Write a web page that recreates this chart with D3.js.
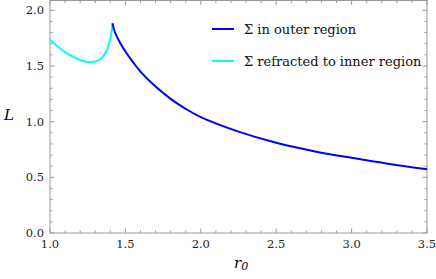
<!DOCTYPE html>
<html>
<head>
<meta charset="utf-8">
<script src="https://cdn.jsdelivr.net/npm/d3@7"></script>
<style>
  body { margin: 0; background: #fff; }
  .frame { fill: none; stroke: #999; stroke-width: 1; }
  .tick line { stroke: #999; }
</style>
</head>
<body>
<svg id="chart" width="436" height="279"></svg>
<script>
// Σ in outer region
const outerR = [1.414, 1.43, 1.46, 1.5, 1.55, 1.6, 1.7, 1.8, 1.9, 2.0, 2.25, 2.5, 2.75, 3.0, 3.25, 3.5];
const outerL = [1.883, 1.805, 1.72, 1.63, 1.535, 1.45, 1.315, 1.205, 1.115, 1.04, 0.91, 0.81, 0.735, 0.675, 0.62, 0.572];
// Σ refracted to inner region
const innerR = [1.0, 1.05, 1.1, 1.15, 1.2, 1.25, 1.3, 1.34, 1.37, 1.39, 1.405, 1.414];
const innerL = [1.735, 1.675, 1.625, 1.585, 1.555, 1.535, 1.54, 1.57, 1.62, 1.69, 1.78, 1.883];

const xMajor = [1.0, 1.5, 2.0, 2.5, 3.0, 3.5];
const yMajor = [0.0, 0.5, 1.0, 1.5, 2.0];
const legendLabels = ["\u03A3 in outer region", "\u03A3 refracted to inner region"];
const colors = ["#0000ff", "#00ffff"];

const SERIF = "DejaVu Serif";
const M = { left: 50, right: 9, top: 0.5, bottom: 46 };
const W = 436, H = 279;
const svg = d3.select("#chart");

const x = d3.scaleLinear().domain([1.0, 3.5]).range([M.left, W - M.right]);
const y = d3.scaleLinear().domain([0, 2.0]).range([233, 10.3]);

const x0 = x.range()[0], x1 = x.range()[1];
const y0 = 233, y1 = M.top;

// minor ticks every 0.1
const xMinor = d3.range(10, 36).map(d => d / 10).filter(d => !xMajor.some(m => Math.abs(m - d) < 1e-6));
const yMinor = d3.range(0, 21).map(d => d / 10).filter(d => !yMajor.some(m => Math.abs(m - d) < 1e-6));

const ticks = svg.append("g").attr("class", "tick");
function vtick(v, len) {
  ticks.append("line").attr("x1", x(v)).attr("x2", x(v)).attr("y1", y0).attr("y2", y0 - len);
  ticks.append("line").attr("x1", x(v)).attr("x2", x(v)).attr("y1", y1).attr("y2", y1 + len);
}
function htick(v, len) {
  ticks.append("line").attr("y1", y(v)).attr("y2", y(v)).attr("x1", x0).attr("x2", x0 + len);
  ticks.append("line").attr("y1", y(v)).attr("y2", y(v)).attr("x1", x1).attr("x2", x1 - len);
}
xMajor.forEach(v => vtick(v, 4.5));
xMinor.forEach(v => vtick(v, 2.5));
yMajor.forEach(v => htick(v, 4.5));
yMinor.forEach(v => htick(v, 2.5));

svg.append("rect").attr("class", "frame")
  .attr("x", x0).attr("y", y1).attr("width", x1 - x0).attr("height", y0 - y1);

svg.selectAll(".xl").data(xMajor).enter().append("text")
  .style("font-family", SERIF).attr("font-size", 11.5).attr("fill", "#222")
  .attr("x", d => x(d)).attr("y", 248)
  .attr("text-anchor", "middle").text(d => d.toFixed(1));
svg.selectAll(".yl").data(yMajor).enter().append("text")
  .style("font-family", SERIF).attr("font-size", 11.5).attr("fill", "#222")
  .attr("x", 44).attr("y", d => y(d) + 4)
  .attr("text-anchor", "end").text(d => d.toFixed(1));

const line = d3.line().x(d => x(d[0])).y(d => y(d[1])).curve(d3.curveCatmullRom.alpha(0.5));
svg.append("path").datum(innerR.map((r, i) => [r, innerL[i]]))
  .attr("d", line).attr("fill", "none").attr("stroke", colors[1]).attr("stroke-width", 2);
svg.append("path").datum(outerR.map((r, i) => [r, outerL[i]]))
  .attr("d", line).attr("fill", "none").attr("stroke", colors[0]).attr("stroke-width", 2);

// legend
const lg = svg.append("g");
legendLabels.forEach((t, i) => {
  const ly = 29 + i * 32;
  lg.append("line").attr("x1", 212).attr("x2", 234).attr("y1", ly).attr("y2", ly)
    .attr("stroke", colors[i]).attr("stroke-width", 2);
  lg.append("text").style("font-family", SERIF).attr("x", 244).attr("y", ly + 5)
    .attr("font-size", 13).attr("fill", "#111").text(t);
});

// axis titles
svg.append("text").style("font-family", SERIF).attr("x", 4).attr("y", 120).attr("font-size", 15)
  .attr("font-style", "italic").text("L");
const rt = svg.append("text").style("font-family", SERIF).attr("x", 234).attr("y", 268)
  .attr("font-size", 15).attr("font-style", "italic");
rt.append("tspan").text("r");
rt.append("tspan").attr("font-size", 11).attr("dy", 2).text("0");
</script>
</body>
</html>
